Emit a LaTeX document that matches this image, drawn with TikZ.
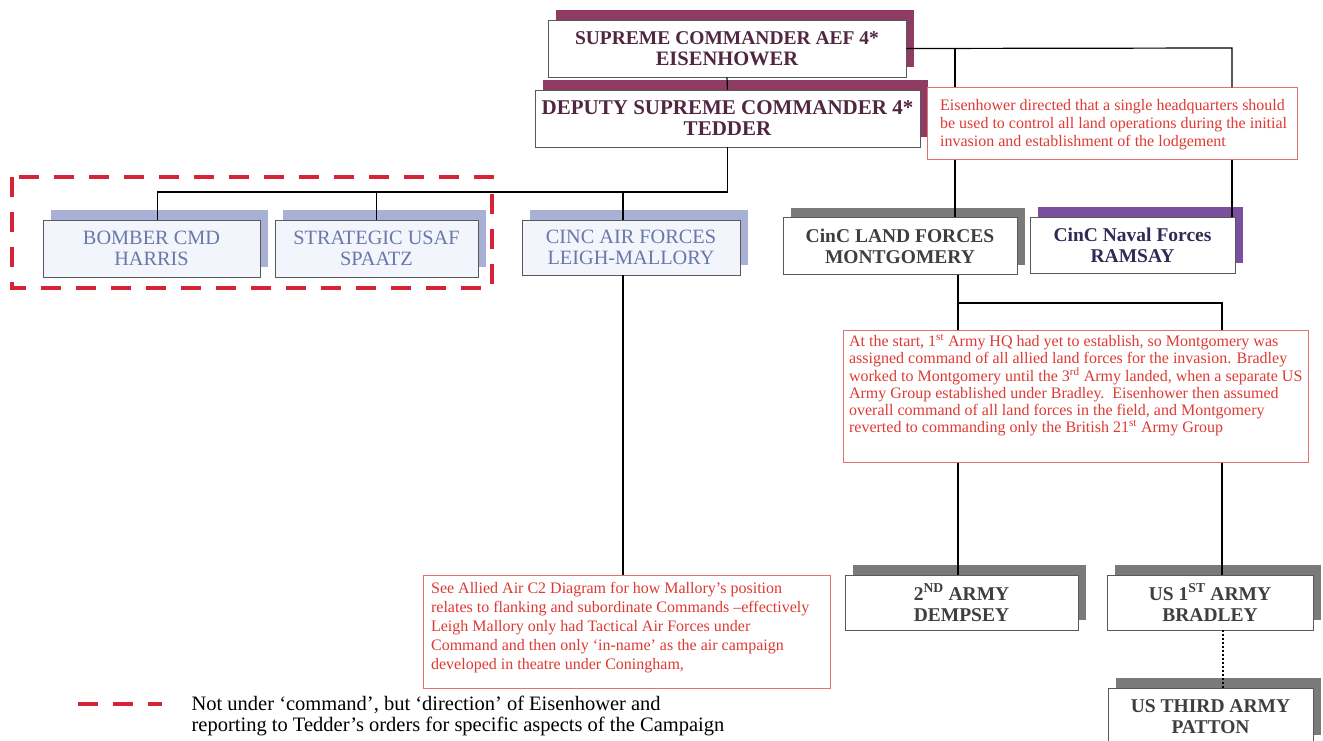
\documentclass[tikz,border=0pt]{standalone}
\usepackage{fontspec}
\setmainfont{Liberation Serif}
\usetikzlibrary{shadows}

\definecolor{supshadow}{RGB}{142,60,100}
\definecolor{navshadow}{RGB}{122,80,158}
\definecolor{grayshadow}{RGB}{122,122,122}
\definecolor{blueshadow}{RGB}{168,176,214}
\definecolor{bluetext}{RGB}{105,120,168}
\definecolor{bluefill}{RGB}{242,245,251}
\definecolor{suptext}{RGB}{80,38,64}
\definecolor{navtext}{RGB}{46,43,85}
\definecolor{graytext}{RGB}{62,62,62}
\definecolor{notered}{RGB}{222,58,52}
\definecolor{noteline}{RGB}{226,112,112}
\definecolor{dashred}{RGB}{215,35,55}

\begin{document}
\begin{tikzpicture}[x=1pt, y=-1pt, line width=1.2pt,
    cmdbox/.style={draw=black!65, line width=0.8pt, fill=white, align=center, inner sep=0pt,
      font=\fontsize{19.5}{21}\selectfont\bfseries},
    supbox/.style={cmdbox, text=suptext,
      general shadow={fill=supshadow, shadow xshift=8pt, shadow yshift=10pt}},
    bluebox/.style={cmdbox, fill=bluefill, text=bluetext, font=\fontsize{20.3}{21}\selectfont,
      general shadow={fill=blueshadow, shadow xshift=8pt, shadow yshift=10pt}},
    graybox/.style={cmdbox, text=graytext,
      general shadow={fill=grayshadow, shadow xshift=8pt, shadow yshift=10pt}},
    navbox/.style={cmdbox, text=navtext,
      general shadow={fill=navshadow, shadow xshift=8pt, shadow yshift=10pt}},
    notebox/.style={draw=noteline, line width=1pt, fill=white, inner sep=0pt},
    notetext/.style={text=notered, align=left, inner sep=0pt, anchor=north west},
    dashframe/.style={draw=dashred, line width=4pt, dash pattern=on 20pt off 15pt},
    link/.style={draw=black, line width=1.2pt}
  ]
    \useasboundingbox (0,0) rectangle (1323,741);
    \clip (0,0) rectangle (1323,741);

    % draw top commanders
    \node[supbox, minimum width=358, minimum height=57] (sup) at (727,48.5)
      {SUPREME COMMANDER AEF 4*\\{\fontsize{20.5}{21}\selectfont EISENHOWER}};
    \node[supbox, font=\fontsize{21}{21}\selectfont\bfseries, minimum width=385, minimum height=57]
      (dep) at (727.5,118.5) {DEPUTY SUPREME COMMANDER 4*\\TEDDER};

    % draw air commands
    \node[bluebox, minimum width=217, minimum height=57] (harris) at (151.5,248.5)
      {BOMBER CMD\\HARRIS};
    \node[bluebox, minimum width=203, minimum height=57] (spaatz) at (376.5,248.5)
      {STRATEGIC USAF\\SPAATZ};
    \node[bluebox, minimum width=218, minimum height=55] (leigh) at (631,247.5)
      {CINC AIR FORCES\\LEIGH-MALLORY};

    % draw land and naval commands
    \node[graybox, minimum width=234, minimum height=57] (land) at (900,246)
      {CinC LAND FORCES\\MONTGOMERY};
    \node[navbox, minimum width=205, minimum height=56] (naval) at (1132.5,245)
      {CinC Naval Forces\\RAMSAY};

    % draw armies
    \node[graybox, minimum width=233, minimum height=55] (dempsey) at (961.5,602.5)
      {2\textsuperscript{ND} ARMY\\DEMPSEY};
    \node[graybox, minimum width=206, minimum height=55] (bradley) at (1210,602.5)
      {US 1\textsuperscript{ST} ARMY\\BRADLEY};
    \node[graybox, minimum width=205, minimum height=57] (patton) at (1210.5,716.5)
      {US THIRD ARMY\\PATTON};

    % draw notes
    \node[notebox, minimum width=370, minimum height=72] (note1) at (1112,124) {};
    \node[notetext, font=\fontsize{16}{18.3}\selectfont] (note1txt) at ([shift={(13,11)}]note1.north west)
      {Eisenhower directed that a single headquarters should\\
       be used to control all land operations during the initial\\
       invasion and establishment of the lodgement};
    \node[notebox, minimum width=465, minimum height=132] (note2) at (1075.5,396) {};
    \node[notetext, font=\fontsize{16}{16.8}\selectfont] (note2txt) at ([shift={(6,4)}]note2.north west)
      {At the start, 1\textsuperscript{st} Army HQ had yet to establish, so Montgomery was\\
       assigned command of all allied land forces for the invasion. Bradley\\
       worked to Montgomery until the 3\textsuperscript{rd} Army landed, when a separate US\\
       Army Group established under Bradley.\ \ Eisenhower then assumed\\
       overall command of all land forces in the field, and Montgomery\\
       reverted to commanding only the British 21\textsuperscript{st} Army Group};
    \node[notebox, minimum width=407, minimum height=113] (note3) at (626.5,631.5) {};
    \node[notetext, font=\fontsize{16}{19}\selectfont] (note3txt) at ([shift={(8,7)}]note3.north west)
      {See Allied Air C2 Diagram for how Mallory’s position\\
       relates to flanking and subordinate Commands –effectively\\
       Leigh Mallory only had Tactical Air Forces under\\
       Command and then only ‘in-name’ as the air campaign\\
       developed in theatre under Coningham,};

    % draw connectors
    \coordinate (eisL) at (955,48);
    \coordinate (eisR) at (1232,48);
    \coordinate (airbus) at (dep.south |- 0,192);
    \coordinate (monL) at (958,303);
    \coordinate (monR) at (1222,303);

    \draw[link] (sup.south) -- (dep.north);
    \draw[link] (sup.east) -- (eisR) -- (eisR |- note1.north);
    \draw[link] (eisL) -- (eisL |- note1.north);
    \draw[link] (eisL |- note1.south) -- (eisL |- land.north);
    \draw[link] (eisR |- note1.south) -- (eisR |- naval.north);

    \draw[link] (dep.south) -- (airbus) -| ([xshift=6]harris.north);
    \draw[link] (spaatz.north |- airbus) -- (spaatz.north);
    \draw[link] ([xshift=-8]leigh.north |- airbus) -- ([xshift=-8]leigh.north);
    \draw[link] ([xshift=-8]leigh.south) -- ([xshift=-8]leigh.south |- note3.north);

    \draw[link] (monL |- land.south) -- (monL) -- (monR) -- (monR |- note2.north);
    \draw[link] (monL) -- (monL |- note2.north);
    \draw[link] (monL |- note2.south) -- (monL |- dempsey.north);
    \draw[link] (monR |- note2.south) -- (monR |- bradley.north);
    \draw[link, dash pattern=on 2pt off 2pt] ([xshift=13]bradley.south) -- ([xshift=13]bradley.south |- patton.north);

    % draw direction frame and legend
    \draw[dashframe] (12,177) rectangle (492,288);
    \draw[dashframe] (78,704) -- (162,704);
    \node[anchor=west, align=left, inner sep=0pt, font=\fontsize{20.5}{21}\selectfont] (legend) at (191,716)
      {Not under ‘command’, but ‘direction’ of Eisenhower and\\
       reporting to Tedder’s orders for specific aspects of the Campaign};
\end{tikzpicture}
\end{document}
